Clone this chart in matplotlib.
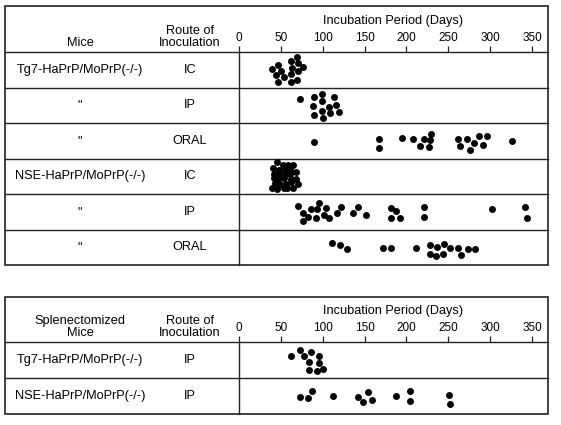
import matplotlib.pyplot as plt
from matplotlib.patches import Rectangle

plt.rcParams['font.family'] = ['Liberation Sans', 'DejaVu Sans']

# incubation period (days) of each mouse, and the dot's place inside its row (0 = top, 1 = bottom)
tg7_ic_days = [39, 47, 50, 44, 54, 47, 62, 63, 62, 62, 69, 70.5, 70, 69, 77]
tg7_ic_lane = [0.48, 0.37, 0.54, 0.66, 0.70, 0.84, 0.25, 0.44, 0.62, 0.84, 0.13, 0.32, 0.54, 0.79, 0.43]

tg7_ip_days = [72.5, 90, 99.6, 113, 88.8, 99.6, 107, 116, 90, 99, 108.7, 120, 100.4]
tg7_ip_lane = [0.33, 0.28, 0.18, 0.28, 0.52, 0.39, 0.55, 0.48, 0.77, 0.66, 0.71, 0.69, 0.86]

tg7_oral_days = [90, 166.9, 166.9, 194.3, 208.3, 216.3, 220.6, 226.6, 228.2, 229.8,
                 261.6, 264.4, 272, 276, 280.4, 287.1, 291.9, 296.3, 326.2]
tg7_oral_lane = [0.53, 0.45, 0.71, 0.41, 0.45, 0.66, 0.45, 0.69, 0.49, 0.31,
                 0.45, 0.64, 0.44, 0.75, 0.55, 0.36, 0.61, 0.38, 0.50]

nse_ic_days = [45.4, 53, 59, 64.9, 41, 47.5, 55, 61, 68, 41.6, 48.2, 55, 60.9,
               42.2, 47, 53.8, 61.7, 68.1, 43, 49, 56.2, 62.1, 70.1, 39.4, 45, 53.8, 57.7, 64.1]
nse_ic_lane = [0.10, 0.19, 0.19, 0.19, 0.28, 0.33, 0.33, 0.33, 0.37, 0.45, 0.45, 0.45, 0.43,
               0.56, 0.57, 0.56, 0.57, 0.57, 0.68, 0.71, 0.71, 0.67, 0.71, 0.83, 0.87, 0.83, 0.83, 0.83]

nse_ip_days = [70.9, 76.9, 76.1, 82.8, 86, 92.4, 93.6, 96, 104.3, 101.2, 107.5, 116.7, 121.9,
               135.8, 142.6, 151.3, 181.6, 187.2, 181.6, 192.7, 221.4, 221.4, 302.3, 341.7, 344.5]
nse_ip_lane = [0.33, 0.53, 0.77, 0.64, 0.43, 0.69, 0.43, 0.24, 0.40, 0.59, 0.69, 0.53, 0.36,
               0.53, 0.37, 0.60, 0.40, 0.48, 0.69, 0.69, 0.37, 0.66, 0.43, 0.37, 0.69]

nse_oral_days = [110.7, 121.1, 129, 171.6, 181.2, 211.9, 228.2, 227.8, 235.4, 237,
                 244.5, 244.1, 252.1, 262, 265.6, 273.2, 282.4]
nse_oral_lane = [0.39, 0.44, 0.56, 0.51, 0.51, 0.51, 0.44, 0.69, 0.74, 0.49,
                 0.41, 0.68, 0.51, 0.52, 0.73, 0.56, 0.56]

splen_tg7_days = [62.5, 72.5, 78.1, 85.6, 95.6, 84, 95.6, 84, 92.8, 100.4]
splen_tg7_lane = [0.39, 0.21, 0.39, 0.28, 0.39, 0.56, 0.59, 0.78, 0.81, 0.74]

splen_nse_days = [72.9, 82.4, 87.2, 112.3, 142.6, 148.5, 153.7, 158.9, 187.6, 204.3, 204.7, 251.3, 251.7]
splen_nse_lane = [0.52, 0.56, 0.37, 0.49, 0.52, 0.67, 0.40, 0.61, 0.50, 0.37, 0.64, 0.46, 0.73]

mice = ['Tg7-HaPrP/MoPrP(-/-)', '"', '"', 'NSE-HaPrP/MoPrP(-/-)', '"', '"']
routes = ['IC', 'IP', 'ORAL', 'IC', 'IP', 'ORAL']
splen_mice = ['Tg7-HaPrP/MoPrP(-/-)', 'NSE-HaPrP/MoPrP(-/-)']
splen_routes = ['IP', 'IP']
day_ticks = [0, 50, 100, 150, 200, 250, 300, 350]

W, H = 561, 425
PX_PER_DAY = 0.837
LEFT, AXIS_X, RIGHT = 5, 239, 548
MICE_X, ROUTE_X = 80, 190
LINE = '#222222'

fig = plt.figure(figsize=(W / 100, H / 100), dpi=100)
bg = fig.add_axes([0, 0, 1, 1])
bg.set_xlim(0, W)
bg.set_ylim(H, 0)
bg.axis('off')


def panel(top, head_bottom, row_h, mice_head, mice, routes, days, lanes):
    n = len(mice)
    bottom = head_bottom + n * row_h
    bg.add_patch(Rectangle((LEFT, top), RIGHT - LEFT, bottom - top, fill=False, lw=1.2, ec=LINE))
    for i in range(n):
        y = head_bottom + i * row_h
        bg.plot([LEFT, RIGHT], [y, y], color=LINE, lw=1.0)
        bg.text(MICE_X, y + row_h / 2, mice[i], ha='center', va='center', fontsize=9.2)
        bg.text(ROUTE_X, y + row_h / 2, routes[i], ha='center', va='center', fontsize=9.2)
    bg.plot([AXIS_X, AXIS_X], [head_bottom, bottom], color=LINE, lw=1.0)
    bg.text(MICE_X, head_bottom - 3, mice_head, ha='center', va='bottom', fontsize=9.2, linespacing=1.0)
    bg.text(ROUTE_X, head_bottom - 3, 'Route of\nInoculation', ha='center', va='bottom',
            fontsize=9.2, linespacing=1.0)
    bg.text((AXIS_X + RIGHT) / 2, head_bottom - 31, 'Incubation Period (Days)',
            ha='center', va='center', fontsize=9.2)

    ax = fig.add_axes([AXIS_X / W, 1 - bottom / H, (RIGHT - AXIS_X) / W, (bottom - head_bottom) / H])
    ax.set_xlim(0, (RIGHT - AXIS_X) / PX_PER_DAY)
    ax.set_ylim(n, 0)
    ax.patch.set_alpha(0)
    for s in ax.spines.values():
        s.set_visible(False)
    ax.xaxis.tick_top()
    ax.set_xticks(day_ticks)
    ax.tick_params(axis='x', direction='out', length=4, width=0.9, color=LINE, labelsize=8.5, pad=2)
    ax.set_yticks([])
    for i in range(n):
        ax.scatter(days[i], [i + l for l in lanes[i]], s=25, color='black', linewidths=0, clip_on=False)


panel(6, 52, 35.5, 'Mice', mice, routes,
      [tg7_ic_days, tg7_ip_days, tg7_oral_days, nse_ic_days, nse_ip_days, nse_oral_days],
      [tg7_ic_lane, tg7_ip_lane, tg7_oral_lane, nse_ic_lane, nse_ip_lane, nse_oral_lane])
panel(297, 342, 36, 'Splenectomized\nMice', splen_mice, splen_routes,
      [splen_tg7_days, splen_nse_days], [splen_tg7_lane, splen_nse_lane])

fig.savefig('out.png', dpi=100)
